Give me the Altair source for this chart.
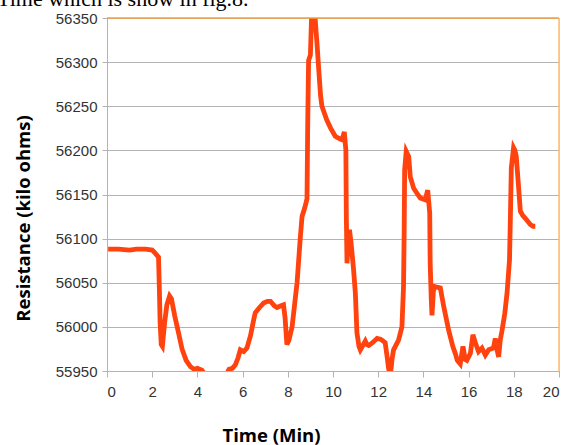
import altair as alt
import pandas as pd

time_min = [0.05, 0.5, 1.0, 1.3, 1.7, 2.0, 2.15, 2.28, 2.32, 2.35, 2.4, 2.45, 2.55, 2.65, 2.77, 2.85,
            3.0, 3.15, 3.32, 3.5, 3.69, 3.85, 4.0, 4.2, 4.35, 4.8, 5.2, 5.4, 5.55, 5.68, 5.8, 5.9,
            6.05, 6.19, 6.35, 6.49, 6.56, 6.75, 6.93, 7.1, 7.23, 7.4, 7.52, 7.7, 7.81, 7.88, 7.96,
            8.05, 8.19, 8.3, 8.41, 8.55, 8.63, 8.75, 8.85, 8.88, 8.92, 9.0, 9.05, 9.1, 9.18, 9.25,
            9.29, 9.36, 9.45, 9.51, 9.73, 9.9, 10.1, 10.3, 10.4, 10.5, 10.57, 10.59, 10.62, 10.68,
            10.73, 10.8, 10.91, 10.99, 11.06, 11.15, 11.21, 11.3, 11.43, 11.5, 11.58, 11.75, 11.95,
            12.1, 12.17, 12.31, 12.4, 12.46, 12.52, 12.57, 12.62, 12.68, 12.9, 13.05, 13.12, 13.15,
            13.17, 13.24, 13.35, 13.42, 13.57, 13.7, 13.86, 14.08, 14.19, 14.28, 14.3, 14.35, 14.38,
            14.44, 14.48, 14.6, 14.75, 14.9, 15.12, 15.3, 15.41, 15.5, 15.63, 15.75, 15.85, 15.92,
            16.08, 16.19, 16.3, 16.44, 16.59, 16.74, 16.89, 17.1, 17.18, 17.25, 17.33, 17.4, 17.48,
            17.6, 17.7, 17.81, 17.85, 17.89, 17.99, 18.05, 18.11, 18.21, 18.29, 18.4, 18.51, 18.73,
            18.85, 18.95]

resistance = [56088, 56088, 56087, 56088, 56088, 56087, 56083, 56079, 56040, 56005, 55980, 55978,
              56005, 56025, 56035, 56032, 56012, 55995, 55975, 55962, 55955, 55952, 55953, 55951,
              55945, 55935, 55942, 55952, 55953, 55957, 55965, 55974, 55972, 55976, 55990, 56008,
              56016, 56022, 56027, 56029, 56029, 56024, 56022, 56024, 56025, 56010, 55980, 55985,
              56000, 56025, 56050, 56100, 56125, 56135, 56145, 56227, 56302, 56308, 56350, 56365,
              56362, 56335, 56322, 56295, 56262, 56250, 56234, 56225, 56216, 56213, 56212, 56221,
              56200, 56125, 56072, 56100, 56110, 56095, 56065, 56038, 55993, 55978, 55974, 55978,
              55984, 55980, 55979, 55982, 55987, 55986, 55985, 55982, 55965, 55953, 55945, 55953,
              55965, 55974, 55985, 56000, 56045, 56110, 56178, 56199, 56193, 56170, 56157, 56152,
              56146, 56144, 56155, 56129, 56072, 56030, 56013, 56040, 56046, 56045, 56044, 56023,
              55996, 55978, 55970, 55962, 55958, 55978, 55963, 55962, 55970, 55991, 55982, 55972,
              55976, 55968, 55974, 55976, 55987, 55975, 55966, 55985, 55996, 56015, 56038, 56076,
              56125, 56180, 56203, 56200, 56193, 56159, 56131, 56126, 56123, 56116, 56114, 56114]

x_ticks = [0, 2, 4, 6, 8, 10, 12, 14, 16, 18, 20]
y_ticks = [55950, 56000, 56050, 56100, 56150, 56200, 56250, 56300, 56350]

df = pd.DataFrame({"t": time_min, "r": resistance})
one = pd.DataFrame({"a": [0]})

W, H = 452, 353

line = alt.Chart(df).mark_line(color="#ff420e", strokeWidth=4.8, clip=True,
                               strokeJoin="miter").encode(
    x=alt.X("t:Q", scale=alt.Scale(domain=[0, 20], nice=False),
            axis=alt.Axis(values=x_ticks, title="Time (Min)", grid=False, format="d",
                          domainColor="#b3b3b3", tickColor="#b3b3b3", tickSize=6,
                          labelPadding=7, labelFontSize=15, labelFont="Liberation Sans",
                          labelColor="#333333", titleFont="Open Sans", titleFontSize=18.5,
                          titleFontWeight="bold", titleColor="#000000",
                          titleX=164, titleY=70, titleAlign="center",
                          titleBaseline="alphabetic")),
    y=alt.Y("r:Q", scale=alt.Scale(domain=[55950, 56350], nice=False, zero=False),
            axis=alt.Axis(values=y_ticks, title="Resistance (kilo ohms)", grid=True, format="d",
                          gridColor="#b3b3b3", domainColor="#b3b3b3", tickColor="#b3b3b3",
                          tickSize=5, labelPadding=5, labelFontSize=15,
                          labelFont="Liberation Sans", labelColor="#333333",
                          titleFont="Open Sans", titleFontSize=18.5, titleFontWeight="bold",
                          titleColor="#000000", titleAngle=270, titleX=-84, titleY=200,
                          titleAlign="center", titleBaseline="middle")),
)

top_border = alt.Chart(one).mark_rule(color="#f4a13c", strokeWidth=1.5).encode(
    x=alt.value(0), x2=alt.value(W), y=alt.value(0))
right_border = alt.Chart(one).mark_rule(color="#ffbb70", strokeWidth=1.5).encode(
    x=alt.value(W), y=alt.value(0), y2=alt.value(H))

caption = alt.Chart(one).mark_text(text="Time which is show in fig.8.", font="Liberation Serif",
                                    fontSize=22, align="left", baseline="alphabetic",
                                    color="#000000").encode(
    x=alt.value(-110), y=alt.value(-12))

chart = alt.layer(line, top_border, right_border, caption).properties(
    width=W, height=H,
    autosize=alt.AutoSizeParams(type="none"),
    padding={"left": 107, "top": 18, "right": 6, "bottom": 74},
).configure_view(stroke=None).configure(background="#ffffff")

chart.save("out.html", embed_options={"renderer": "svg", "actions": False})
